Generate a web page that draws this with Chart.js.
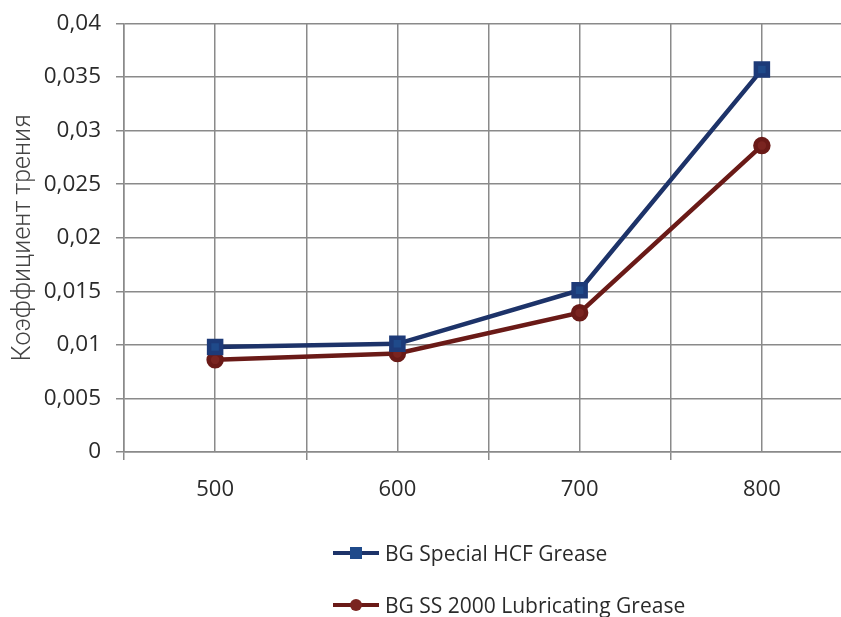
<!DOCTYPE html>
<html>
<head>
<meta charset="utf-8">
<script src="https://cdn.jsdelivr.net/npm/chart.js@4/dist/chart.umd.min.js"></script>
<style>
  html, body { margin: 0; padding: 0; background: #fff; overflow: hidden; }
  #wrap { position: relative; width: 870px; height: 617px; overflow: hidden; }
  #chartBox { position: absolute; left: 0; top: -5px; width: 870px; height: 525px; }
  #legend { position: absolute; left: 333px; top: 540px; font: 21px "Open Sans", sans-serif; color: #2a2a2a; }
  .item { display: flex; align-items: center; height: 26px; margin-bottom: 26px; white-space: nowrap; }
  .item canvas { margin-right: 6px; }
</style>
</head>
<body>
<div id="wrap">
  <div id="chartBox"><canvas id="frictionChart"></canvas></div>
  <div id="legend"></div>
</div>
<script>
// Load values
const loads = [500, 600, 700, 800];
const hcfGrease = [0.0098, 0.0101, 0.0151, 0.0357];
const ss2000Grease = [0.0086, 0.0092, 0.0130, 0.0286];
const seriesNames = ["BG Special HCF Grease", "BG SS 2000 Lubricating Grease"];

const gridColor = "#8a8a8a";

function points(values) {
    return loads.map((x, i) => ({ x: x, y: values[i] }));
}

// Comma as decimal separator
function commaFormat(value) {
    return Number(value.toFixed(3)).toString().replace('.', ',');
}

const chart = new Chart("frictionChart", {
    type: "line",
    data: {
        datasets: [{
            label: seriesNames[0],
            data: points(hcfGrease),
            borderColor: "#1d3369",
            backgroundColor: "#1f4a8a",
            pointBackgroundColor: "#1f4a8a",
            pointBorderColor: "#1d3a78",
            pointStyle: "rect",
            pointRadius: 8.5,
            borderWidth: 4.5,
            tension: 0
        }, {
            label: seriesNames[1],
            data: points(ss2000Grease),
            borderColor: "#6a1a17",
            backgroundColor: "#7a2420",
            pointBackgroundColor: "#7a2420",
            pointBorderColor: "#6a1a17",
            pointStyle: "circle",
            pointRadius: 6.5,
            borderWidth: 4.5,
            tension: 0
        }]
    },
    options: {
        responsive: true,
        maintainAspectRatio: false,
        animation: false,
        layout: { padding: { top: 18, right: 14, left: 0, bottom: 0 } },
        plugins: {
            legend: { display: false },
            tooltip: { enabled: false }
        },
        scales: {
            x: {
                type: "linear",
                min: 450,
                max: 850,
                afterFit: axis => { axis.height = 68; },
                ticks: {
                    stepSize: 50,
                    padding: 17,
                    color: "#2a2a2a",
                    font: { family: "Open Sans", size: 22 },
                    callback: v => (v % 100 === 0 ? String(v) : "")
                },
                grid: {
                    color: gridColor,
                    lineWidth: 1.5,
                    tickLength: 8,
                    tickColor: ctx => (ctx.tick && ctx.tick.value % 100 === 0 ? "rgba(0,0,0,0)" : gridColor)
                },
                border: { color: gridColor, width: 1.5 }
            },
            y: {
                min: 0,
                max: 0.04,
                afterFit: axis => { axis.width = 124; },
                ticks: {
                    stepSize: 0.005,
                    padding: 15,
                    color: "#2a2a2a",
                    font: { family: "Open Sans", size: 22.5 },
                    callback: v => commaFormat(v)
                },
                grid: {
                    color: gridColor,
                    lineWidth: 1.5,
                    tickLength: 8
                },
                border: { color: gridColor, width: 1.5 },
                title: {
                    display: true,
                    text: "Коэффициент трения",
                    color: "#444",
                    font: { family: "Roboto", weight: 300, size: 25 },
                    padding: { top: 9, bottom: 0 }
                }
            }
        }
    }
});

// Legend below the chart: line with marker, then the series name
function buildLegend() {
    const box = document.getElementById("legend");
    chart.data.datasets.forEach(ds => {
        const row = document.createElement("div");
        row.className = "item";
        const c = document.createElement("canvas");
        c.width = 46; c.height = 20;
        const g = c.getContext("2d");
        g.strokeStyle = ds.borderColor;
        g.lineWidth = 4;
        g.beginPath(); g.moveTo(0, 10); g.lineTo(46, 10); g.stroke();
        g.fillStyle = ds.pointBackgroundColor;
        if (ds.pointStyle === "rect") {
            g.fillRect(17, 4, 12, 12);
        } else {
            g.beginPath(); g.arc(23, 10, 6, 0, Math.PI * 2); g.fill();
        }
        const label = document.createElement("span");
        label.textContent = ds.label;
        row.appendChild(c);
        row.appendChild(label);
        box.appendChild(row);
    });
}
buildLegend();
</script>
</body>
</html>
